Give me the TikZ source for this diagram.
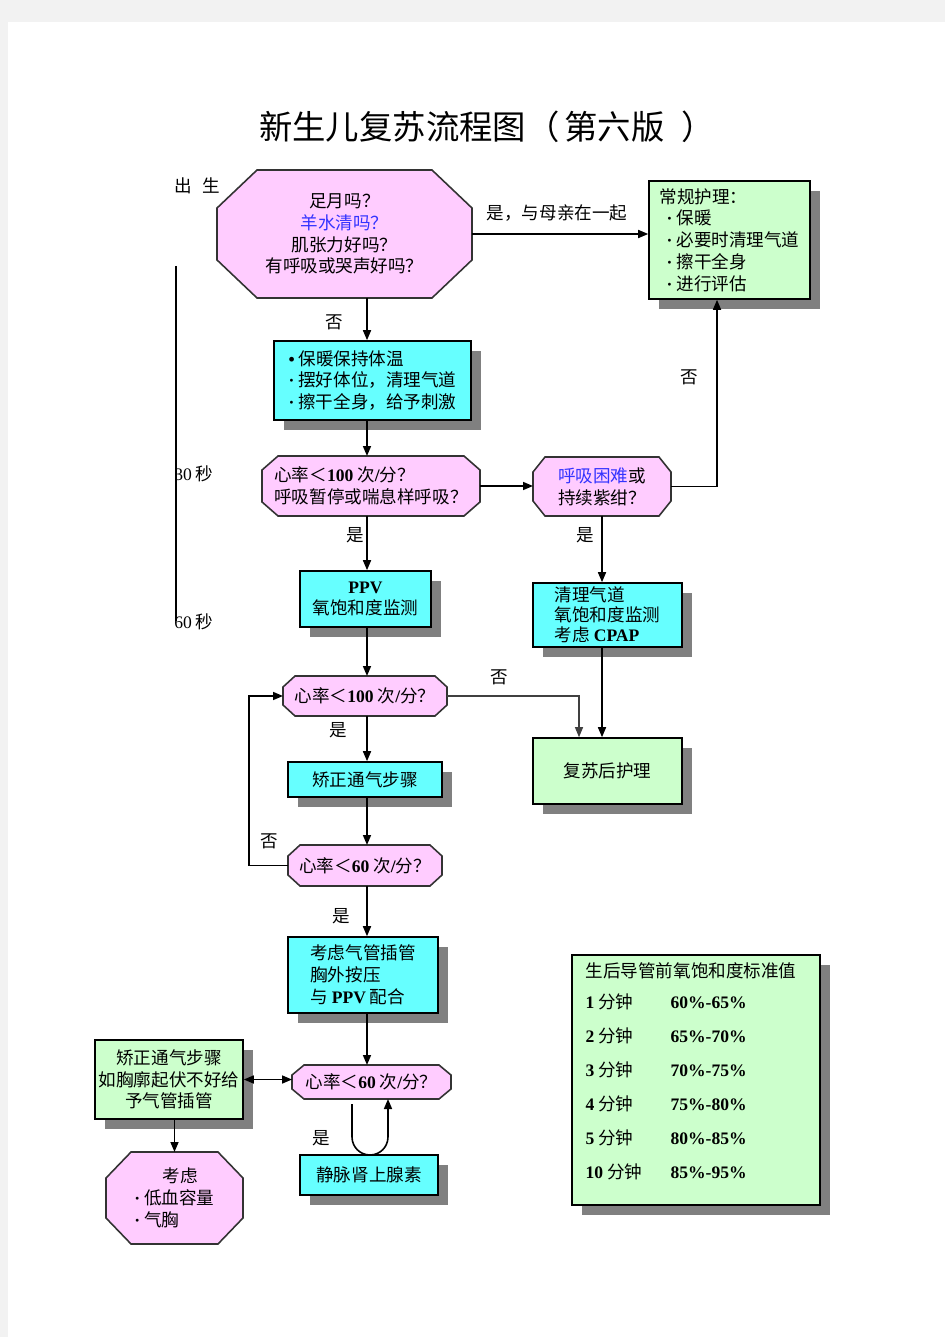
\documentclass[tikz,border=0pt]{standalone}
\usepackage{fontspec}
\setmainfont{Noto Sans CJK SC}
\newfontfamily\tnr{Liberation Serif}
\usetikzlibrary{arrows.meta,calc,shadows,backgrounds}
\definecolor{pagegray}{HTML}{F2F2F2}
\definecolor{pinkfill}{HTML}{FFCCFF}
\definecolor{cyanfill}{HTML}{66FFFF}
\definecolor{greenfill}{HTML}{CCFFCC}
\definecolor{shadowgray}{HTML}{808080}
\definecolor{octborder}{HTML}{333333}
\definecolor{qblue}{HTML}{3333FF}
\newcommand\nm[1]{{\tnr\bfseries #1}}
\newcommand\pt{{\tnr\bfseries ·}}
\newcommand\bodyfont{\fontsize{10pt}{12.4pt}\selectfont}
\tikzset{
	oct/.style={inner sep=0pt,outer sep=0pt,align=center},
	octline/.style={draw=octborder,fill=pinkfill,line width=0.9pt},
	boxshadow/.style={drop shadow={opacity=1,fill=shadowgray,shadow xshift=0.2cm,shadow yshift=-0.2cm}},
	cbox/.style={draw,fill=cyanfill,line width=0.9pt,inner sep=0pt,align=center,boxshadow},
	gbox/.style={draw,fill=greenfill,line width=0.9pt,inner sep=0pt,align=center,boxshadow},
	arr/.style={line width=0.9pt,-{Triangle[length=0.2cm,width=0.16cm]}},
	thinarr/.style={line width=0.6pt,draw=black!75,-{Triangle[length=0.2cm,width=0.16cm]}},
	dblarr/.style={line width=0.9pt,{Triangle[length=0.2cm,width=0.16cm]}-{Triangle[length=0.2cm,width=0.16cm]}},
	lbl/.style={inner sep=0pt}
}
\begin{document}
\begin{tikzpicture}[x=0.02cm,y=-0.02cm,font=\bodyfont]
	\useasboundingbox (0,0) rectangle (945,1337);
	\begin{scope}[on background layer]
		\fill[pagegray] (0,0) rectangle (945,1337);
		\fill[white] (8,22) rectangle (945,1337);
	\end{scope}
	\node (title) at (487,127) {\fontsize{19pt}{22pt}\selectfont 新生儿复苏流程图（\hspace{0.15em}第六版\hspace{0.5em}）};
	\coordinate (spine) at (367,0);
	\coordinate (t0) at (176,266);
	\coordinate (t1) at (176,621);
	\draw[line width=0.6pt] (t0) -- (t1);
	\node[lbl] (birth) at (197,186) {出\hspace{0.6em}生};
	\node[lbl,anchor=west] (s30) at (174,474) {{\tnr 30} 秒};
	\node[lbl,anchor=west] (s60) at (174,622) {{\tnr 60} 秒};

	\node[oct,minimum width=5.1cm,minimum height=2.56cm] (q1) at (344.5,234) {足月吗？\\{\color{qblue}羊水清吗？}\\肌张力好吗？\\有呼吸或哭声好吗？};
	\node[gbox,align=left,minimum width=3.22cm,minimum height=2.36cm] (b1) at (729.5,240) {常规护理：\\\hspace*{0.4em}\pt\ 保暖\\\hspace*{0.4em}\pt\ 必要时清理气道\\\hspace*{0.4em}\pt\ 擦干全身\\\hspace*{0.4em}\pt\ 进行评估};
	\node[cbox,align=left,minimum width=3.94cm,minimum height=1.58cm] (b2) at (372.5,380.5) {{\tnr\bfseries •} 保暖保持体温\\\pt\ 摆好体位，清理气道\\\pt\ 擦干全身，给予刺激};
	\node[oct,align=left,minimum width=4.36cm,minimum height=1.2cm] (q2) at (371,486) {心率＜\nm{100} 次\nm{/}分？\\呼吸暂停或喘息样呼吸？};
	\node[oct,align=left,minimum width=2.76cm,minimum height=1.18cm] (q3) at (602,486.5) {{\color{qblue}呼吸困难}或\\持续紫绀？};
	\node[cbox,minimum width=2.62cm,minimum height=1.12cm] (b3) at (365.5,599) {\nm{PPV}\\氧饱和度监测};
	\node[cbox,align=left,minimum width=2.98cm,minimum height=1.28cm,font=\fontsize{10pt}{11.4pt}\selectfont] (b4) at (607.5,615) {清理气道\\氧饱和度监测\\考虑 \nm{CPAP}};
	\node[gbox,minimum width=2.98cm,minimum height=1.32cm] (b5) at (607.5,771) {复苏后护理};
	\node[oct,minimum width=3.28cm,minimum height=0.8cm] (q4) at (365,696) {心率＜\nm{100} 次\nm{/}分？};
	\node[cbox,minimum width=3.08cm,minimum height=0.7cm] (b6) at (365,779.5) {矫正通气步骤};
	\node[oct,minimum width=3.08cm,minimum height=0.82cm] (q5) at (365,865.5) {心率＜\nm{60} 次\nm{/}分？};
	\node[cbox,align=left,minimum width=3cm,minimum height=1.52cm] (b7) at (363,975) {考虑气管插管\\胸外按压\\与 \nm{PPV} 配合};
	\node[oct,minimum width=3.18cm,minimum height=0.68cm] (q6) at (371.5,1082) {心率＜\nm{60} 次\nm{/}分？};
	\node[gbox,minimum width=2.96cm,minimum height=1.58cm] (b8) at (169,1079.5) {矫正通气步骤\\如胸廓起伏不好给\\予气管插管};
	\node[oct,align=left,minimum width=2.74cm,minimum height=1.84cm] (q7) at (174.5,1198) {\hspace*{1.6em}考虑\\\pt\ 低血容量\\\pt\ 气胸};
	\node[cbox,minimum width=2.76cm,minimum height=0.8cm] (b9) at (369,1175) {静脉肾上腺素};
	\node[gbox,minimum width=4.96cm,minimum height=5cm] (b10) at (696,1080) {};
	\node[lbl,anchor=north west] (tab) at ($(b10.north west)+(14,8)$) {\begin{tabular}{@{}p{1.7cm}@{}l@{}}
		\multicolumn{2}{@{}l@{}}{生后导管前氧饱和度标准值}\\[5pt]
		\nm{1} 分钟 & \nm{60\%-65\%}\\[7pt]
		\nm{2} 分钟 & \nm{65\%-70\%}\\[7pt]
		\nm{3} 分钟 & \nm{70\%-75\%}\\[7pt]
		\nm{4} 分钟 & \nm{75\%-80\%}\\[7pt]
		\nm{5} 分钟 & \nm{80\%-85\%}\\[7pt]
		\nm{10} 分钟 & \nm{85\%-95\%}
	\end{tabular}};

	\begin{scope}[on background layer]
		\foreach \n/\c/\d in {q1/40/38,q2/16/14,q3/12/15,q4/12/11,q5/12/11,q6/12/10,q7/25/26}
			\draw[octline] ($(\n.north west)+(\c,0)$) -- ($(\n.north east)+(-\c,0)$) -- ($(\n.north east)+(0,\d)$) -- ($(\n.south east)+(0,-\d)$) -- ($(\n.south east)+(-\c,0)$) -- ($(\n.south west)+(\c,0)$) -- ($(\n.south west)+(0,-\d)$) -- ($(\n.north west)+(0,\d)$) -- cycle;
	\end{scope}

	\draw[arr] (q1.east) -- (q1.east -| b1.west);
	\node[lbl] (yes0) at (557,213) {是，与母亲在一起};
	\draw[arr] (q1.south -| spine) -- (b2.north -| spine);
	\node[lbl] (no1) at (334,322) {否};
	\draw[arr] (b2.south -| spine) -- (q2.north -| spine);
	\draw[arr] (q2.east) -- (q2.east -| q3.west);
	\draw[arr] (q3.east) -| ([xshift=-0.25cm]b1.south);
	\node[lbl] (no2) at (689,377) {否};
	\draw[arr] (q3.south) -- (q3.south |- b4.north);
	\node[lbl] (yes2) at (585,535) {是};
	\draw[arr] (q2.south -| spine) -- (b3.north -| spine);
	\node[lbl] (yes1) at (355,535) {是};
	\draw[arr] (b4.south -| q3.south) -- (b5.north -| q3.south);
	\draw[arr] (b3.south -| spine) -- (q4.north -| spine);
	\draw[thinarr] (q4.east) -| ([xshift=-0.57cm]b5.north);
	\node[lbl] (no3) at (499,677) {否};
	\draw[arr] (q4.south -| spine) -- (b6.north -| spine);
	\node[lbl] (yes3) at (338,730) {是};
	\draw[arr] (b6.south -| spine) -- (q5.north -| spine);
	\draw[arr] (q5.west) -- ++(-39,0) |- (q4.west);
	\node[lbl] (no4) at (269,841) {否};
	\draw[arr] (q5.south -| spine) -- (b7.north -| spine);
	\node[lbl] (yes4) at (341,916) {是};
	\draw[arr] (b7.south -| spine) -- (q6.north -| spine);
	\draw[dblarr] (b8.east) -- (b8.east -| q6.west);
	\draw[arr] (q7.north |- b8.south) -- (q7.north);
	\draw[arr] ([xshift=-0.39cm,yshift=-0.1cm]q6.south) -- ++(0,-0.66cm) arc[start angle=180,end angle=360,radius=0.36cm] -- ([xshift=0.33cm]q6.south);
	\node[lbl] (yes5) at (321,1138) {是};
\end{tikzpicture}
\end{document}
